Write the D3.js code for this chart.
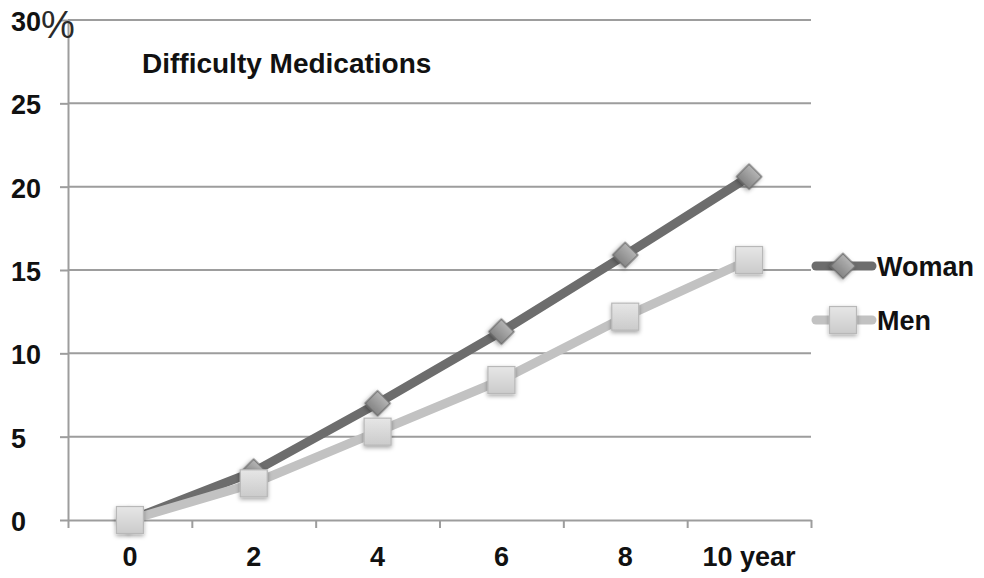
<!DOCTYPE html>
<html>
<head>
<meta charset="utf-8">
<script src="https://cdn.jsdelivr.net/npm/d3@7"></script>
<style>
  html, body { margin: 0; padding: 0; background: #fff; }
  text { font-family: "Liberation Sans", Arial, sans-serif; font-weight: bold; fill: #111; }
</style>
</head>
<body>
<svg id="chart" width="984" height="578"></svg>
<script>
// Share of people with difficulty taking medications over follow-up years
const categories = ["0", "2", "4", "6", "8", "10"];
const categoryLabels = ["0", "2", "4", "6", "8", "10 year"];
const womanValues = [0, 2.9, 7.0, 11.3, 15.9, 20.6];
const menValues = [0, 2.2, 5.3, 8.4, 12.2, 15.6];
const yTicks = [0, 5, 10, 15, 20, 25, 30];
const yTickLabels = ["0", "5", "10", "15", "20", "25", "30"];

const svg = d3.select("#chart");
const plotLeft = 68, plotRight = 811, plotTop = 20, plotBottom = 520;
const fontSize = 27;

const x = d3.scaleBand().domain(categories).range([plotLeft, plotRight]);
const y = d3.scaleLinear().domain([0, 30]).range([plotBottom, plotTop]);

const defs = svg.append("defs");
const shadow = defs.append("filter").attr("id", "shadow")
  .attr("x", "-50%").attr("y", "-50%").attr("width", "200%").attr("height", "200%");
shadow.append("feDropShadow").attr("dx", 0).attr("dy", 2).attr("stdDeviation", 2)
  .attr("flood-color", "#000").attr("flood-opacity", 0.35);

const gDiamond = defs.append("linearGradient").attr("id", "gDiamond")
  .attr("x1", 0).attr("y1", 0).attr("x2", 0).attr("y2", 1);
gDiamond.append("stop").attr("offset", "0%").attr("stop-color", "#b4b4b4");
gDiamond.append("stop").attr("offset", "100%").attr("stop-color", "#848484");

const gSquare = defs.append("linearGradient").attr("id", "gSquare")
  .attr("x1", 0).attr("y1", 0).attr("x2", 0).attr("y2", 1);
gSquare.append("stop").attr("offset", "0%").attr("stop-color", "#e6e6e6");
gSquare.append("stop").attr("offset", "100%").attr("stop-color", "#cbcbcb");

// horizontal gridlines
svg.append("g").selectAll("line").data(yTicks.filter(d => d > 0)).join("line")
  .attr("x1", plotLeft).attr("x2", plotRight)
  .attr("y1", d => y(d)).attr("y2", d => y(d))
  .attr("stroke", "#9d9d9d").attr("stroke-width", 2);

// y axis
const yAxis = svg.append("g").attr("transform", `translate(${plotLeft},0)`)
  .call(d3.axisLeft(y).tickValues(yTicks).tickSize(8).tickSizeOuter(0).tickFormat(""));
yAxis.select(".domain").attr("stroke", "#9d9d9d").attr("stroke-width", 2);
yAxis.selectAll(".tick line").attr("stroke", "#9d9d9d").attr("stroke-width", 2);

svg.append("g").selectAll("text").data(yTicks).join("text")
  .attr("x", 11).attr("y", d => y(d) + 11)
  .attr("font-size", fontSize)
  .text((d, i) => yTickLabels[i]);

// percent sign on the top tick, set in a lighter, larger face
svg.append("text").attr("x", 41).attr("y", 38)
  .attr("font-size", 38)
  .style("font-weight", "normal").style("fill", "#2a2a2a")
  .text("%");

// x axis with ticks between categories
const boundaries = categories.slice(1).map(c => x(c));
const xAxisScale = d3.scaleLinear().domain([plotLeft, plotRight]).range([plotLeft, plotRight]);
const xAxis = svg.append("g").attr("transform", `translate(0,${plotBottom})`)
  .call(d3.axisBottom(xAxisScale).tickValues([plotLeft, ...boundaries, plotRight]).tickSize(8).tickSizeOuter(0).tickFormat(""));
xAxis.select(".domain").attr("stroke", "#9d9d9d").attr("stroke-width", 2);
xAxis.selectAll(".tick line").attr("stroke", "#9d9d9d").attr("stroke-width", 2);

svg.append("g").selectAll("text").data(categories).join("text")
  .attr("x", d => x(d) + x.bandwidth() / 2).attr("y", 566)
  .attr("text-anchor", "middle").attr("font-size", fontSize)
  .text((d, i) => categoryLabels[i]);

// title
svg.append("text").attr("x", 142).attr("y", 73).attr("font-size", 28)
  .text("Difficulty Medications");

const cx = d => x(d) + x.bandwidth() / 2;
const line = d3.line().x(d => cx(d.c)).y(d => y(d.v));

const woman = categories.map((c, i) => ({ c, v: womanValues[i] }));
const men = categories.map((c, i) => ({ c, v: menValues[i] }));

// Woman series
svg.append("path").datum(woman).attr("d", line)
  .attr("fill", "none").attr("stroke", "#6d6d6d").attr("stroke-width", 9)
  .attr("stroke-linejoin", "round");

// Men series
svg.append("path").datum(men).attr("d", line)
  .attr("fill", "none").attr("stroke", "#c2c2c2").attr("stroke-width", 9)
  .attr("stroke-linejoin", "round");

const diamond = d3.symbol().type(d3.symbolSquare).size(320);
function drawDiamond(g, px, py) {
  g.append("path").attr("d", diamond())
    .attr("transform", `translate(${px},${py}) rotate(45)`)
    .attr("fill", "url(#gDiamond)").attr("stroke", "#6a6a6a").attr("stroke-width", 1.2)
    .attr("filter", "url(#shadow)");
}
function drawSquare(g, px, py) {
  g.append("rect").attr("x", px - 13.5).attr("y", py - 13.5).attr("width", 27).attr("height", 27)
    .attr("fill", "url(#gSquare)").attr("stroke", "#b8b8b8").attr("stroke-width", 1.2)
    .attr("filter", "url(#shadow)");
}

const wMarks = svg.append("g");
woman.forEach(d => drawDiamond(wMarks, cx(d.c), y(d.v)));
const mMarks = svg.append("g");
men.forEach(d => drawSquare(mMarks, cx(d.c), y(d.v)));

// legend
const legend = [
  { name: "Woman", color: "#6d6d6d", yPos: 266, marker: drawDiamond },
  { name: "Men", color: "#c2c2c2", yPos: 320, marker: drawSquare }
];
legend.forEach(l => {
  svg.append("line").attr("x1", 816).attr("x2", 872).attr("y1", l.yPos).attr("y2", l.yPos)
    .attr("stroke", l.color).attr("stroke-width", 9).attr("stroke-linecap", "round");
  l.marker(svg, 843, l.yPos);
  svg.append("text").attr("x", 877).attr("y", l.yPos + 10).attr("font-size", fontSize).text(l.name);
});
</script>
</body>
</html>
